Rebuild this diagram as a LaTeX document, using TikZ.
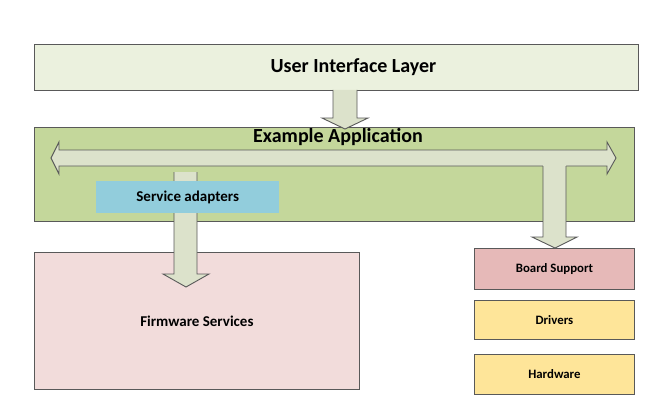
\documentclass[tikz,border=0pt]{standalone}
\usepackage{fontspec}
\setmainfont{Carlito}
\definecolor{linegray}{HTML}{595959}
\definecolor{uiFill}{HTML}{EBF1DE}
\definecolor{appFill}{HTML}{C4D79B}
\definecolor{arrowFill}{HTML}{DCE2CB}
\definecolor{svcFill}{HTML}{92CDDC}
\definecolor{fwFill}{HTML}{F2DCDB}
\definecolor{bspFill}{HTML}{E6B9B8}
\definecolor{hwFill}{HTML}{FEE599}
\begin{document}
\begin{tikzpicture}[x=1pt,y=-1pt,
  layerbox/.style={draw=linegray, line width=0.9pt, anchor=north west, inner sep=0pt, align=center},
  bigtext/.style={font=\bfseries\fontsize{20}{24}\selectfont},
  midtext/.style={font=\bfseries\fontsize{15}{18}\selectfont},
  smalltext/.style={font=\bfseries\fontsize{12.8}{15}\selectfont},
  blockarrow/.style={draw=linegray, line width=0.9pt, fill=arrowFill, line join=miter}]
\useasboundingbox (0,0) rectangle (663,409);
\fill[white] (0,0) rectangle (663,409);

% top layer
\node[layerbox, fill=uiFill, minimum width=604pt, minimum height=46pt] (ui) at (34,44) {};
\node[bigtext, inner sep=0pt, anchor=base] (uititle) at (353.5,73) {User Interface Layer};

% application layer
\node[layerbox, fill=appFill, minimum width=600pt, minimum height=94pt] (app) at (34,127) {};
\node[bigtext, inner sep=0pt, anchor=base] (apptitle) at (338,142) {Example Application};

% block arrow from the user interface into the application
\fill[arrowFill] (333,90) -- (333,118) -- (322,118) -- (345,129) -- (368,118) -- (357,118) -- (357,90) -- cycle;
\draw[blockarrow, fill=none] (333,90) -- (333,118) -- (322,118) -- (345,129) -- (368,118) -- (357,118) -- (357,90);

% horizontal double arrow across the application
\draw[blockarrow] (51,158) -- (59,142) -- (59,150) -- (607,150) -- (607,142) -- (616,158)
  -- (607,174) -- (607,166) -- (59,166) -- (59,174) -- cycle;

% firmware services box
\node[layerbox, fill=fwFill, minimum width=325pt, minimum height=137pt, midtext] (fw) at (34,252) {Firmware Services};

% block arrow down to the firmware services
\fill[arrowFill] (174,172) -- (174,274) -- (163,274) -- (186,287) -- (209,274) -- (197,274) -- (197,172) -- cycle;
\draw[blockarrow, fill=none] (174,172) -- (174,274) -- (163,274) -- (186,287) -- (209,274) -- (197,274) -- (197,172);

% service adapters
\node[anchor=north west, inner sep=0pt, fill=svcFill, minimum width=183pt, minimum height=32pt, midtext] (svc) at (96,181) {Service adapters};

% right-hand stack
\node[layerbox, fill=bspFill, minimum width=160pt, minimum height=41pt, smalltext] (bsp) at (474,248) {Board Support};
\node[layerbox, fill=hwFill, minimum width=160pt, minimum height=39pt, smalltext] (drv) at (474,300) {Drivers};
\node[layerbox, fill=hwFill, minimum width=160pt, minimum height=40pt, smalltext] (hw) at (474,354) {Hardware};

% block arrow down to board support
\fill[arrowFill] (543,165) -- (543,237) -- (532,237) -- (555,248) -- (577,237) -- (566,237) -- (566,165) -- cycle;
\draw[blockarrow, fill=none] (543,166) -- (543,237) -- (532,237) -- (555,248) -- (577,237) -- (566,237) -- (566,166);
\end{tikzpicture}
\end{document}
